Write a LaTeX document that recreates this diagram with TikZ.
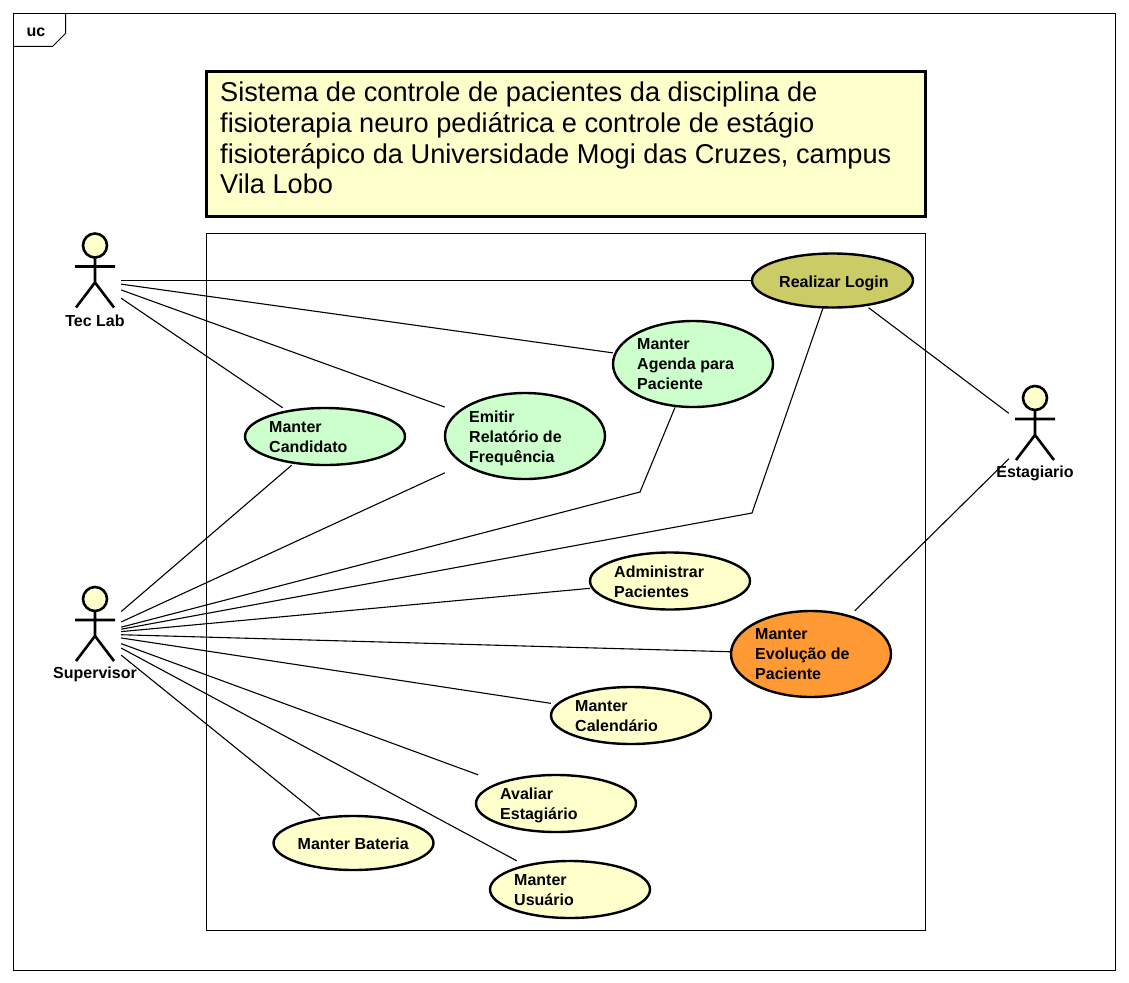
\documentclass[tikz,border=0pt]{standalone}
\usepackage{fontspec}
\setmainfont{Liberation Sans}
\tikzset{
  frameline/.style={draw=black,line width=1pt},
  link/.style={draw=black,line width=1.1pt},
  limb/.style={draw=black,line width=2.6pt},
  ucbox/.style={rectangle,inner sep=0pt},
  uctext/.style={inner sep=0pt,anchor=west,align=left,font=\fontsize{16}{20}\selectfont\bfseries},
  ucoval/.style={draw=black,line width=2.4pt},
  actorbox/.style={rectangle,minimum width=52pt,minimum height=80pt,inner sep=0pt},
  actorlabel/.style={inner sep=0pt,font=\fontsize{16}{18}\selectfont\bfseries},
  notebox/.style={draw=black,line width=3pt,fill=noteyellow,rectangle,inner sep=0pt,minimum width=719pt,minimum height=145pt},
  notetext/.style={inner sep=0pt,anchor=west,align=left,font=\fontsize{27.2}{30.6}\selectfont},
}
\definecolor{noteyellow}{HTML}{FFFFCC}
\definecolor{ucgreen}{HTML}{CCFFCC}
\definecolor{ucolive}{HTML}{CCCC66}
\definecolor{ucorange}{HTML}{FF9933}
% name, cx, cy, rx, ry, fill, text y offset, text
\newcommand{\ucase}[8]{%
  \path[ucoval,fill=#6] (#2,#3) ellipse ({#4 pt} and {#5 pt});
  \pgfmathsetlengthmacro{\ucw}{2*#4}%
  \pgfmathsetlengthmacro{\uch}{2*#5}%
  \node[ucbox,minimum width=\ucw,minimum height=\uch] (#1) at (#2,#3) {};
  \node[uctext] (#1text) at ({#2-#4+24},{#3+#7}) {#8};
}
% name, cx, cy (link centre), label
\newcommand{\stick}[4]{%
  \node[actorbox] (#1) at (#2,#3) {};
  \begin{scope}[shift={(#2,#3)}]
    \draw[limb,fill=noteyellow] (0,-35) circle (12pt);
    \draw[limb] (0,-23) -- (0,2) (-20,-14) -- (20,-14) (-19,27) -- (0,2) -- (19,27);
    \node[actorlabel] (#1label) at (0,40) {#4};
  \end{scope}
}
\begin{document}
\begin{tikzpicture}[x=1pt,y=-1pt]
\useasboundingbox (0,0) rectangle (1129,982);
\fill[white] (0,0) rectangle (1129,982);
\draw[frameline] (13.5,13.5) rectangle (1115.5,970.5);
\draw[frameline] (65.5,13.5) -- (65.5,33.5) -- (52.5,46.5) -- (13.5,46.5);
\node[inner sep=0pt,font=\fontsize{16}{18}\selectfont\bfseries] (tag) at (36,32) {uc};
\node[notebox] (note) at (566,144) {};
\node[notetext] (notelabel) at (220,138) {Sistema de controle de pacientes da disciplina de\\fisioterapia neuro pediátrica e controle de estágio\\fisioterápico da Universidade Mogi das Cruzes, campus\\Vila Lobo};
\draw[frameline] (206.5,233.5) rectangle (925.5,930.5);

\stick{tec}{95}{280.5}{Tec Lab}
\stick{sup}{95}{634}{Supervisor}
\stick{est}{1035}{433}{Estagiario}

\ucase{login}{832.5}{280.5}{80.5}{27}{ucolive}{3}{\hspace*{3pt}Realizar Login}
\ucase{agenda}{693}{364}{80}{43}{ucgreen}{0}{Manter\\Agenda para\\Paciente}
\ucase{emitir}{525}{436}{80}{43}{ucgreen}{2}{Emitir\\Relatório de\\Frequência}
\ucase{cand}{325}{436.5}{80}{28.5}{ucgreen}{1}{Manter\\Candidato}
\ucase{admin}{670}{581}{80}{28.5}{noteyellow}{1}{Administrar\\Pacientes}
\ucase{evol}{811}{654}{80}{43}{ucorange}{0}{Manter\\Evolução de\\Paciente}
\ucase{cal}{631}{715.5}{80}{28.5}{noteyellow}{1}{Manter\\Calendário}
\ucase{aval}{556}{803.5}{80}{28.5}{noteyellow}{2}{Avaliar\\Estagiário}
\ucase{bat}{353.5}{843}{80}{27}{noteyellow}{1}{Manter Bateria}
\ucase{usu}{570}{889.5}{80}{28.5}{noteyellow}{1}{Manter\\Usuário}

\coordinate (bendagenda) at (640,492);
\coordinate (bendlogin) at (752,513);
\draw[link] (tec) -- (login);
\draw[link] (tec) -- (agenda);
\draw[link] (tec) -- (emitir);
\draw[link] (tec) -- (cand);
\draw[link] (sup) -- (cand);
\draw[link] (sup) -- (emitir);
\draw[link] (sup) -- (bendagenda) -- (agenda);
\draw[link] (sup) -- (bendlogin) -- (login);
\draw[link] (sup) -- (admin);
\draw[link] (sup) -- (evol);
\draw[link] (sup) -- (cal);
\draw[link] (sup) -- (aval);
\draw[link] (sup) -- (usu);
\draw[link] (sup) -- (bat);
\draw[link] (est) -- (login);
\draw[link] (est) -- (evol);
\end{tikzpicture}
\end{document}
